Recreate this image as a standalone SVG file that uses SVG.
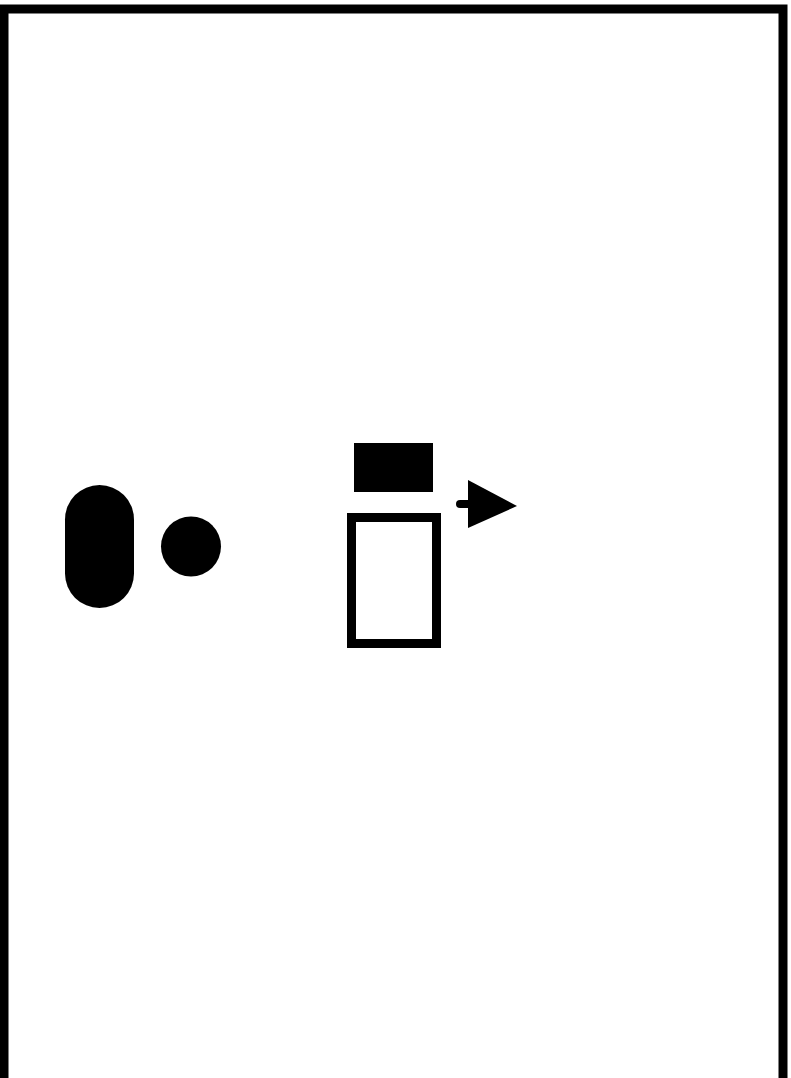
<svg xmlns="http://www.w3.org/2000/svg" width="791" height="1078" viewBox="0 0 791 1078">
<style>
.blk{fill:#000;stroke:none}
.out{fill:#fff;stroke:#000;stroke-width:9}
.conn{stroke:#000;stroke-width:8;stroke-linecap:round;fill:none}
</style>
<defs>
<marker id="arr" markerUnits="userSpaceOnUse" markerWidth="50" markerHeight="50" refX="0" refY="24" orient="auto">
<polygon points="0,0 49,26 0,48" fill="#000"/>
</marker>
</defs>
<rect width="791" height="1078" fill="#fff"/>
<g id="frame"><rect x="4" y="9" width="779" height="1100" fill="none" stroke="#000" stroke-width="9"/></g>
<g id="pill"><rect class="blk" x="65" y="485" width="69" height="123" rx="34.5" ry="34.5"/></g>
<g id="dot"><circle class="blk" cx="191" cy="546.5" r="30"/></g>
<g id="topblock"><rect class="blk" x="354" y="443" width="79" height="49"/></g>
<g id="box"><rect class="out" x="351.5" y="517.5" width="85" height="126"/></g>
<g id="connectors">
<line class="conn" x1="460" y1="504" x2="468" y2="504" marker-end="url(#arr)"/>
</g>
</svg>
